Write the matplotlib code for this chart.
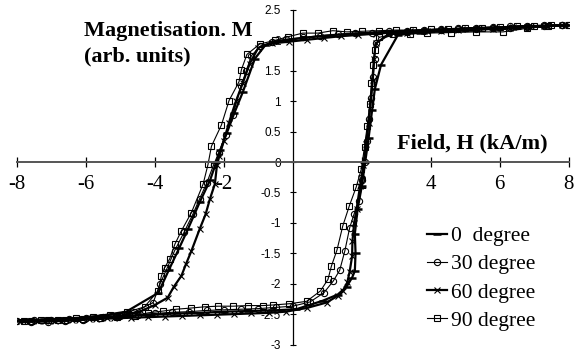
import matplotlib
matplotlib.use("Agg")
import matplotlib.pyplot as plt
import numpy as np

# field H (kA/m) and magnetisation M, down branch (+8 -> -8) then up branch (-8 -> +8)
h_0_down = [8.0, 7.3, 6.6, 5.9, 5.2, 4.5, 3.8, 3.1, 2.4, 1.7, 1.0, 0.3, -0.4, -0.8, -1.1, -1.45,
            -1.7, -1.92, -2.1, -2.22, -2.4, -2.7, -3.04, -3.3, -3.6, -3.9, -4.83, -5.5, -6.2, -6.9, -7.6, -8.0]
m_0_down = [2.25, 2.24, 2.23, 2.21, 2.2, 2.18, 2.17, 2.15, 2.13, 2.11, 2.08, 2.04, 1.99, 1.92, 1.7, 1.15,
            0.8, 0.47, 0.2, 0.0, -0.3, -0.66, -1.1, -1.42, -1.78, -2.15, -2.46, -2.52, -2.56, -2.58, -2.6, -2.61]
h_0_up = [-7.6, -6.9, -6.2, -5.5, -4.8, -4.1, -3.4, -2.7, -2.0, -1.3, -0.6, 0.1, 0.87, 1.3, 1.56, 1.72, 1.80,
          1.82, 1.80, 1.88, 2.0, 2.1, 2.2, 2.3, 2.38, 2.56, 3.05, 3.7, 4.4, 5.1, 5.8, 6.5, 7.2, 7.9]
m_0_up = [-2.6, -2.59, -2.57, -2.55, -2.53, -2.51, -2.49, -2.48, -2.46, -2.45, -2.44, -2.42, -2.28, -2.18, -2.05,
          -1.9, -1.79, -1.5, -1.18, -0.77, -0.4, 0.0, 0.4, 0.85, 1.2, 1.6, 2.09, 2.13, 2.15, 2.17, 2.19, 2.21, 2.23, 2.25]

h_30_down = [7.8, 7.3, 6.8, 6.3, 5.8, 5.3, 4.8, 4.3, 3.8, 3.3, 2.8, 2.3, 1.8, 1.3, 0.8, 0.3, -0.2, -0.6, -0.95,
             -1.2, -1.35, -1.5, -1.74, -1.95, -2.15, -2.3, -2.5, -2.7, -2.9, -3.15, -3.43, -3.65, -3.85, -4.05,
             -4.6, -5.1, -5.6, -6.1, -6.6, -7.1, -7.6, -8.0]
m_30_down = [2.26, 2.25, 2.24, 2.23, 2.22, 2.21, 2.2, 2.19, 2.17, 2.16, 2.15, 2.13, 2.12, 2.1, 2.08, 2.05, 2.02,
             1.98, 1.9, 1.75, 1.5, 1.25, 0.77, 0.45, 0.15, -0.05, -0.35, -0.6, -0.86, -1.15, -1.46, -1.75, -2.0,
             -2.31, -2.47, -2.53, -2.57, -2.6, -2.62, -2.63, -2.63, -2.62]
h_30_up = [-7.5, -7.0, -6.5, -6.0, -5.5, -5.0, -4.5, -4.0, -3.5, -3.0, -2.5, -2.0, -1.5, -1.0, -0.5, 0.0, 0.5,
           0.9, 1.17, 1.36, 1.51, 1.65, 1.78, 1.93, 2.02, 2.08, 2.15, 2.22, 2.28, 2.33, 2.37, 2.4, 2.8, 3.3, 3.8,
           4.3, 4.8, 5.3, 5.8, 6.3, 6.8, 7.3, 7.8]
m_30_up = [-2.6, -2.59, -2.58, -2.56, -2.55, -2.53, -2.51, -2.49, -2.47, -2.46, -2.44, -2.43, -2.42, -2.41, -2.39,
           -2.37, -2.3, -2.15, -1.96, -1.78, -1.46, -1.08, -0.85, -0.64, -0.3, 0.0, 0.35, 0.7, 1.05, 1.4, 1.7, 1.95,
           2.12, 2.14, 2.16, 2.17, 2.18, 2.19, 2.2, 2.21, 2.22, 2.23, 2.25]

h_60_down = [7.9, 7.4, 6.9, 6.4, 5.9, 5.4, 4.9, 4.4, 3.9, 3.4, 2.9, 2.4, 1.9, 1.4, 0.9, 0.4, -0.1, -0.6, -1.0,
             -1.25, -1.45, -1.65, -1.85, -2.0, -2.13, -2.2, -2.26, -2.4, -2.53, -2.7, -2.94, -3.1, -3.23, -3.45,
             -3.63, -4.0, -4.4, -4.9, -5.4, -5.9, -6.4, -6.9, -7.4, -7.9]
m_60_down = [2.25, 2.24, 2.23, 2.22, 2.21, 2.2, 2.19, 2.18, 2.16, 2.15, 2.13, 2.11, 2.09, 2.07, 2.04, 2.01, 1.98,
             1.95, 1.88, 1.62, 1.3, 1.0, 0.65, 0.35, 0.1, -0.05, -0.36, -0.6, -0.86, -1.1, -1.46, -1.68, -1.87,
             -2.05, -2.23, -2.35, -2.45, -2.52, -2.56, -2.58, -2.6, -2.61, -2.62, -2.62]
h_60_up = [-7.7, -7.2, -6.7, -6.2, -5.7, -5.2, -4.7, -4.2, -3.7, -3.2, -2.7, -2.2, -1.7, -1.2, -0.7, -0.2, 0.4,
           0.98, 1.3, 1.46, 1.58, 1.65, 1.72, 1.73, 1.78, 1.85, 1.95, 2.05, 2.12, 2.2, 2.26, 2.32, 2.36, 2.4, 2.8,
           3.3, 3.8, 4.3, 4.8, 5.3, 5.8, 6.3, 6.8, 7.3, 7.8]
m_60_up = [-2.62, -2.61, -2.6, -2.59, -2.58, -2.57, -2.56, -2.55, -2.54, -2.53, -2.52, -2.51, -2.5, -2.49, -2.48,
           -2.46, -2.4, -2.31, -2.2, -2.12, -1.98, -1.8, -1.55, -1.3, -1.0, -0.77, -0.4, -0.05, 0.3, 0.65, 1.0,
           1.35, 1.7, 1.95, 2.1, 2.13, 2.15, 2.16, 2.17, 2.18, 2.19, 2.2, 2.22, 2.23, 2.25]

h_90_down = [8.0, 7.5, 7.0, 6.5, 6.0, 5.5, 5.0, 4.5, 4.0, 3.5, 3.0, 2.5, 2.0, 1.57, 1.16, 0.73, 0.29, -0.14,
             -0.52, -0.96, -1.33, -1.49, -1.56, -1.85, -2.07, -2.36, -2.46, -2.6, -2.94, -3.23, -3.42, -3.57,
             -3.72, -3.81, -3.91, -4.3, -4.8, -5.3, -5.8, -6.3, -6.8, -7.3, -7.8]
m_90_down = [2.26, 2.25, 2.24, 2.23, 2.22, 2.21, 2.2, 2.19, 2.18, 2.17, 2.17, 2.16, 2.15, 2.14, 2.16, 2.12, 2.12,
             2.06, 2.0, 1.94, 1.77, 1.52, 1.32, 1.01, 0.61, 0.26, -0.04, -0.36, -0.83, -1.13, -1.35, -1.59,
             -1.74, -1.87, -2.12, -2.38, -2.47, -2.52, -2.55, -2.57, -2.59, -2.6, -2.61]
h_90_up = [-7.6, -7.1, -6.6, -6.1, -5.6, -5.1, -4.59, -4.2, -3.76, -3.38, -2.94, -2.55, -2.17, -1.73, -1.3, -0.86,
           -0.57, -0.1, 0.40, 0.80, 1.02, 1.12, 1.28, 1.45, 1.64, 1.84, 1.99, 2.08, 2.16, 2.23, 2.28, 2.33, 2.38,
           2.5, 2.9, 3.4, 3.9, 4.6, 5.3, 6.1, 6.8, 7.4, 8.0]
m_90_up = [-2.61, -2.6, -2.59, -2.58, -2.56, -2.55, -2.53, -2.48, -2.45, -2.42, -2.40, -2.38, -2.37, -2.37, -2.36,
           -2.36, -2.35, -2.33, -2.29, -2.12, -1.93, -1.71, -1.45, -1.05, -0.72, -0.41, -0.11, 0.25, 0.6, 0.95,
           1.3, 1.6, 1.85, 2.05, 2.1, 2.11, 2.12, 2.13, 2.14, 2.14, 2.2, 2.23, 2.26]

x_ticks = [-8, -6, -4, -2, 2, 4, 6, 8]
y_ticks = [-3, -2.5, -2, -1.5, -1, -0.5, 0, 0.5, 1, 1.5, 2, 2.5]
y_ticklabels = ["-3", "-2.5", "-2", "-1.5", "-1", "-0.5", "0", "0.5", "1", "1.5", "2", "2.5"]

serif = "Liberation Serif"
sans = "Liberation Sans"

fig = plt.figure(figsize=(5.76, 3.54), dpi=100)
ax = fig.add_axes([17 / 576, 1 - 344.5 / 354, 551.6 / 576, 334.5 / 354])

series = [
    (h_0_down + h_0_up, m_0_down + m_0_up, "_", 1.6, 6, "0  degree"),
    (h_30_down + h_30_up, m_30_down + m_30_up, "o", 0.8, 4.5, "30 degree"),
    (h_60_down + h_60_up, m_60_down + m_60_up, "x", 1.6, 4.5, "60 degree"),
    (h_90_down + h_90_up, m_90_down + m_90_up, "s", 0.8, 5, "90 degree"),
]
for h, m, mk, lw, ms, lab in series:
    ax.plot(h, m, color="black", lw=lw, marker=mk, ms=ms, mfc="none", mec="black",
            mew=0.8 if mk != "_" else 1.8, label=lab)

ax.set_xlim(-8, 8)
ax.set_ylim(-3, 2.5)

ax.spines["left"].set_position(("data", 0))
ax.spines["bottom"].set_position(("data", 0))
ax.spines["top"].set_visible(False)
ax.spines["right"].set_visible(False)
ax.spines["bottom"].set_color("#555555")
ax.spines["bottom"].set_linewidth(1.4)
ax.spines["left"].set_linewidth(0.9)

ax.set_xticks(x_ticks)
ax.set_xticklabels([str(t) for t in x_ticks], fontfamily=serif, fontsize=15)
ax.tick_params(axis="x", direction="inout", length=7, width=0.9, pad=6, color="black")
ax.set_yticks(y_ticks)
ax.set_yticklabels(y_ticklabels, fontfamily=sans, fontsize=8.5)
ax.tick_params(axis="y", direction="inout", length=5, width=0.8, pad=6)

fig.text(84 / 576, 1 - 36 / 354, "Magnetisation. M", fontfamily=serif, fontweight="bold",
         fontsize=16, va="baseline", ha="left")
fig.text(84 / 576, 1 - 61.7 / 354, "(arb. units)", fontfamily=serif, fontweight="bold",
         fontsize=16, va="baseline", ha="left")
fig.text(397 / 576, 1 - 148.3 / 354, "Field, H (kA/m)", fontfamily=serif, fontweight="bold",
         fontsize=16, va="baseline", ha="left")

leg = ax.legend(loc="upper left", bbox_to_anchor=(427 / 576, 1 - 226 / 354),
                bbox_transform=fig.transFigure, frameon=False, prop={"family": serif, "size": 15.5},
                handlelength=0.95, handletextpad=0.15, labelspacing=0.38, borderpad=0, borderaxespad=0)

fig.savefig("out.png", dpi=100)
